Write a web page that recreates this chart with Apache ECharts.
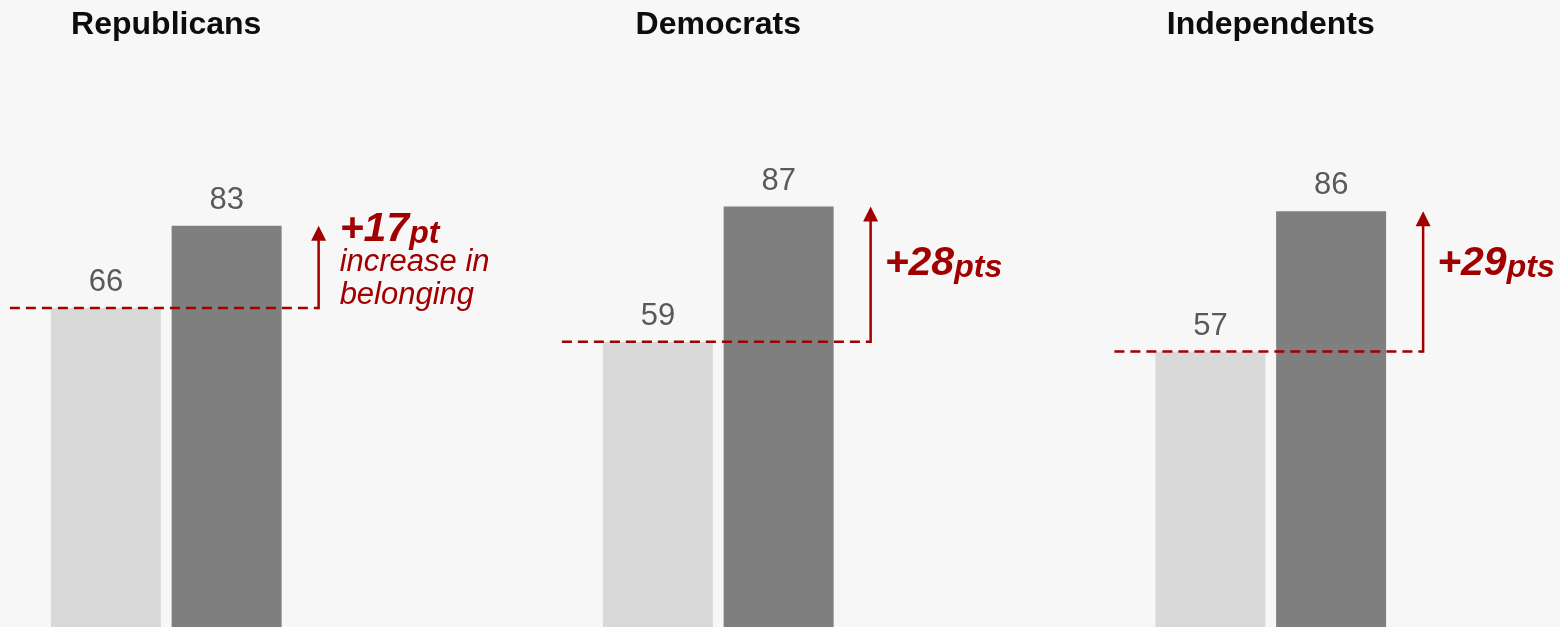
<!DOCTYPE html>
<html><head><meta charset="utf-8">
<script src="https://cdn.jsdelivr.net/npm/echarts@6/dist/echarts.min.js"></script>
<style>html,body{margin:0;padding:0;background:#f7f7f7}#c{width:1560px;height:627px}</style>
</head><body><div id="c"></div>
<script>
const panelNames = ['Republicans', 'Democrats', 'Independents'];
const periods = ['Before', 'After'];
const beforeValues = [66, 59, 57];
const afterValues = [83, 87, 86];
const changeValues = ['+17', '+28', '+29'];
const changeUnits = ['pt', 'pts', 'pts'];
const changeNotes = [['increase in', 'belonging'], [], []];

const gridLefts = [45.5, 597.5, 1150];
const gridWidth = 241.5;
const RED = '#a00000';
const FONT = '"Liberation Sans", Arial, sans-serif';

const chart = echarts.init(document.getElementById('c'), null, {renderer: 'canvas'});
const grids = [], xAxes = [], yAxes = [], series = [];
panelNames.forEach((name, i) => {
  grids.push({left: gridLefts[i], width: gridWidth, top: 143.7, bottom: -2.7});
  xAxes.push({type: 'category', gridIndex: i, data: periods, show: false});
  yAxes.push({type: 'value', gridIndex: i, min: 0, max: 100, show: false, splitLine: {show: false}});
  series.push({
    type: 'bar', xAxisIndex: i, yAxisIndex: i, barWidth: 110, silent: true,
    data: [
      {value: beforeValues[i], itemStyle: {color: '#d9d9d9'}},
      {value: afterValues[i], itemStyle: {color: '#7f7f7f'}}
    ],
    label: {show: true, position: 'top', distance: 10, color: '#595959', fontSize: 31, fontFamily: FONT}
  });
});

chart.setOption({
  backgroundColor: '#f7f7f7',
  animation: false,
  grid: grids, xAxis: xAxes, yAxis: yAxes, series: series
});

const graphics = [];
panelNames.forEach((name, i) => {
  const p1 = chart.convertToPixel({gridIndex: i}, [periods[0], beforeValues[i]]);
  const p2 = chart.convertToPixel({gridIndex: i}, [periods[1], afterValues[i]]);
  const bar1Left = p1[0] - 55, bar2Right = p2[0] + 55;
  const baseY = p1[1], topY = p2[1];
  const ax = bar2Right + 37;
  graphics.push({type: 'text', z: 10, style: {
    text: name, x: (bar1Left + bar2Right) / 2, y: 25, align: 'center', verticalAlign: 'middle',
    fill: '#0d0d0d', font: 'bold 32px ' + FONT}});
  graphics.push({type: 'line', z: 10, shape: {x1: bar1Left - 41, y1: baseY, x2: ax, y2: baseY},
    style: {stroke: RED, lineWidth: 2.5, lineDash: [10, 6]}});
  graphics.push({type: 'line', z: 10, shape: {x1: ax, y1: baseY + 1.2, x2: ax, y2: topY + 10},
    style: {stroke: RED, lineWidth: 2.5}});
  graphics.push({type: 'polygon', z: 10, shape: {points: [[ax - 7.5, topY + 15], [ax + 7.5, topY + 15], [ax, topY]]},
    style: {fill: RED}});
  const notes = changeNotes[i];
  const tx = notes.length ? ax + 21 : ax + 14;
  const ty = notes.length ? topY + 3.5 : 264;
  graphics.push({type: 'text', z: 10, style: {
    text: '{a|' + changeValues[i] + '}{b|' + changeUnits[i] + '}', x: tx, y: ty,
    align: 'left', verticalAlign: 'middle', fill: RED,
    rich: {
      a: {fontSize: 41, fontWeight: 'bold', fontStyle: 'italic', fontFamily: FONT, fill: RED, verticalAlign: 'bottom'},
      b: {fontSize: 32, fontWeight: 'bold', fontStyle: 'italic', fontFamily: FONT, fill: RED, verticalAlign: 'bottom'}
    }}});
  notes.forEach((line, k) => {
    graphics.push({type: 'text', z: 10, style: {
      text: line, x: tx, y: topY + 36.5 + k * 33.5, align: 'left', verticalAlign: 'middle',
      fill: RED, font: 'italic 31px ' + FONT}});
  });
});
chart.setOption({graphic: graphics});
</script>
</body></html>
